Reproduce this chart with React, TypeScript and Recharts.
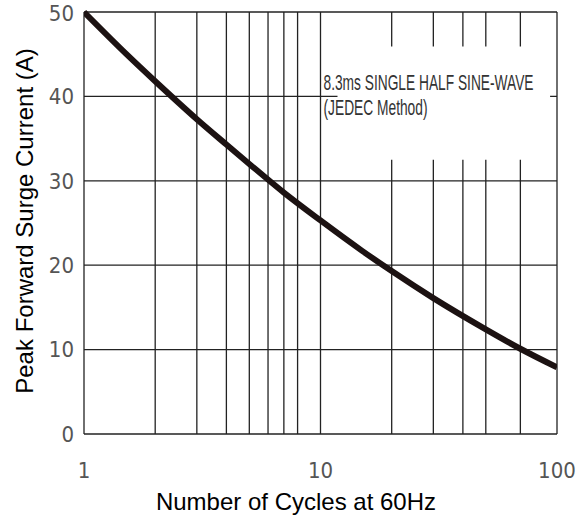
import { LineChart, Line, XAxis, YAxis, CartesianGrid, ReferenceArea } from "recharts";

// values
const cycles = [1, 1.5, 2, 3, 4, 5, 7, 10, 15, 20, 30, 50, 70, 100];
const surge = [50, 45.1, 41.8, 37.3, 34.3, 32.0, 28.6, 25.3, 21.7, 19.3, 16.1, 12.4, 10.1, 7.9];

const xTicks = [1, 10, 100];
const yTicks = [0, 10, 20, 30, 40, 50];
const xGrid = [1, 2, 3, 4, 5, 6, 7, 8, 9, 10, 20, 30, 40, 50, 60, 70, 80, 90, 100];

const noteLines = ["8.3ms SINGLE HALF SINE-WAVE", "(JEDEC Method)"];
const noteWidths = [210, 104];

const data = cycles.map((x, i) => ({ x, y: surge[i] }));

const tickFont = { fontFamily: "'Liberation Sans Narrow', 'DejaVu Sans Condensed', sans-serif", fontSize: 22, fill: "#555" };
const titleFont = "'Liberation Sans', Arial, sans-serif";

const NoteLabel = (props: any) => {
  const vb = props.viewBox || {};
  const x0 = (vb.x ?? 0) - 14;
  const y0 = vb.y ?? 0;
  return (
    <g>
      {noteLines.map((t, i) => (
        <g key={i} transform={`translate(${x0} ${y0 + 43 + i * 25}) scale(1 1.25)`}>
          <text x={0} y={0} fill="#333" textLength={noteWidths[i]} lengthAdjust="spacingAndGlyphs"
            style={{ fontFamily: "'Liberation Sans Narrow', sans-serif", fontSize: 17 }}>
            {t}
          </text>
        </g>
      ))}
    </g>
  );
};

export default function App() {
  return (
    <div style={{ position: "absolute", left: 0, top: 0, width: 582, height: 526, background: "#fff" }}>
      <LineChart width={582} height={526} data={data} margin={{ top: 12, right: 25, bottom: 0, left: 0 }}>
        <CartesianGrid stroke="#222" strokeWidth={1.3} horizontalValues={yTicks} verticalValues={xGrid} />
        <ReferenceArea x1={11.8} x2={93.5} y1={32.5} y2={45.9} fill="#fff" fillOpacity={1} stroke="none" label={<NoteLabel />} />
        <XAxis dataKey="x" type="number" scale="log" domain={[1, 100]} ticks={xTicks} allowDataOverflow
          axisLine={false} tickLine={false} tickSize={0} tickMargin={28} height={92} tick={tickFont}
          label={{
            content: () => (
              <text x={296} y={510} textAnchor="middle" fill="#000" style={{ fontFamily: titleFont, fontSize: 24 }}>
                Number of Cycles at 60Hz
              </text>
            ),
          }} />
        <YAxis type="number" domain={[0, 50]} ticks={yTicks} axisLine={false} tickLine={false} tickSize={0} tickMargin={10}
          width={84} tick={tickFont}
          label={{
            content: () => (
              <text x={0} y={0} transform="translate(33 221) rotate(-90)" textAnchor="middle" fill="#000"
                style={{ fontFamily: titleFont, fontSize: 24 }}>
                Peak Forward Surge Current (A)
              </text>
            ),
          }} />
        <Line type="monotone" dataKey="y" stroke="#1c1212" strokeWidth={6} dot={false} isAnimationActive={false} />
      </LineChart>
    </div>
  );
}
